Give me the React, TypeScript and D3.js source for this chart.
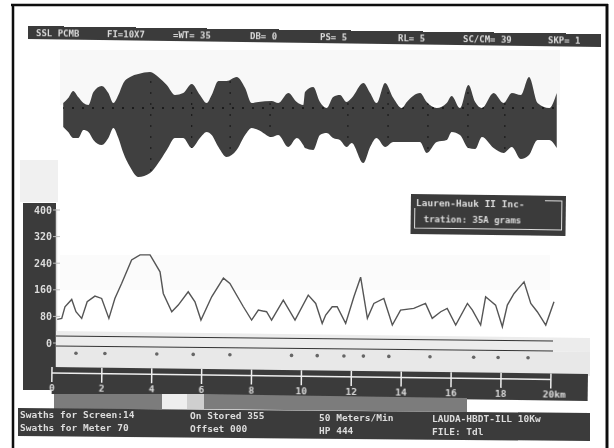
import React from "react";
import * as d3 from "d3";

const envelopeKm = [0.45,0.65,0.85,1.05,1.26,1.46,1.66,1.99,2.26,2.46,2.66,2.86,3.13,3.46,3.93,4.26,4.6,4.93,5.26,5.6,5.93,6.2,6.4,6.67,7.0,7.4,7.74,8.0,8.27,8.8,9.07,9.47,9.81,10.07,10.14,10.47,10.74,11.01,11.27,11.54,11.81,12.01,12.48,12.75,13.01,13.35,13.68,14.02,14.22,14.75,15.02,15.42,15.82,16.02,16.35,16.69,16.96,17.23,17.7,18.1,18.43,18.79,19.12,19.46,19.93,20.23];
const envelopeUpper = [14,19,26,20,14,12,25,31,24,14,22,34,40,43,45,40,32,22,24,33,22,14,22,36,36,40,29,14,15,16,14,24,15,12,25,30,15,9,20,22,15,19,34,24,14,34,19,9,15,24,15,9,14,21,9,32,15,9,24,14,24,22,40,14,9,24];
const envelopeLower = [-10,-15,-21,-21,-13,-15,-23,-28,-21,-11,-21,-36,-50,-60,-56,-46,-33,-21,-21,-31,-21,-15,-18,-30,-40,-33,-18,-11,-13,-20,-18,-30,-21,-28,-31,-33,-18,-16,-21,-23,-30,-26,-46,-30,-21,-30,-25,-25,-25,-25,-36,-25,-23,-15,-18,-31,-32,-20,-31,-36,-30,-42,-38,-23,-23,-31];
const envelopeGridKm = [3.96,5.6,7.14,8.74,11.86,13.47,15.07,16.67,18.15];

const traceKm = [0.21,0.39,0.52,0.79,0.96,1.19,1.41,1.72,1.99,2.28,2.52,2.79,3.19,3.53,3.93,4.33,4.46,4.8,5.06,5.46,5.73,5.97,6.4,6.87,7.13,7.67,8.0,8.27,8.6,8.8,9.27,9.74,10.27,10.57,10.83,10.97,11.23,11.43,11.77,12.1,12.37,12.5,12.64,12.9,13.3,13.64,13.97,14.5,14.97,15.24,15.58,15.84,16.18,16.65,16.85,17.18,17.38,17.78,18.05,18.25,18.52,18.92,19.19,19.45,19.79,20.12];
const traceValue = [71,74,109,131,94,74,124,141,134,74,134,179,250,265,265,214,149,94,114,154,124,69,139,195,179,109,69,99,94,69,129,69,144,119,59,84,109,109,59,139,198,139,74,119,134,54,99,104,119,74,94,104,54,119,99,54,139,114,49,114,149,184,119,94,54,124];

const markerKm = [0.96,2.12,4.2,5.66,7.13,9.6,10.63,11.7,12.48,13.5,15.15,16.9,17.88,19.08];
const yTicks = [0,80,160,240,320,400];
const kmTicks = [0,2,4,6,8,10,12,14,16,18,20];
const kmLabels = ["0","2","4","6","8","10","12","14","16","18","20km"];

const headerItems = ["SSL PCMB","FI=10X7","=WT= 35","DB= 0","PS= 5","RL= 5","SC/CM= 39","SKP= 1"];
const footerLeft = ["Swaths for Screen:14","Swaths for Meter 70"];
const footerMiddle = ["On Stored 355","Offset 000"];
const footerRate = ["50 Meters/Min","HP 444"];
const footerRight = ["LAUDA-HBDT-ILL 10Kw","FILE: Tdl"];
const legendLines = ["Lauren-Hauk II Inc-","tration: 35A grams"];

const DARK = "#3a3a3a";
const x = d3.scaleLinear().domain([0, 20]).range([52, 551]);
const yTrace = d3.scaleLinear().domain([0, 400]).range([343, 210]);
const yEnv = d3.scaleLinear().domain([-60, 45]).range([177, 72]);
const headerX = [36, 107, 173, 250, 320, 398, 463, 548];

const env = d3.area<number>()
  .x((_, i) => x(envelopeKm[i]))
  .y0((_, i) => yEnv(envelopeLower[i]))
  .y1((_, i) => yEnv(envelopeUpper[i]))
  .curve(d3.curveMonotoneX);
const trace = d3.line<number>().x((_, i) => x(traceKm[i])).y((d) => yTrace(d));
const envPath = env(envelopeUpper) ?? "";

const mono = { fontFamily: "'DejaVu Sans Mono', monospace", fontWeight: 700, fill: "#dcdcdc" } as const;

export default function App() {
  return (
    <svg width={614} height={448} style={{ position: "absolute", left: 0, top: 0, background: "#fff" }}>
      <defs>
        <filter id="soft" filterUnits="userSpaceOnUse" x="0" y="0" width="614" height="448"><feGaussianBlur stdDeviation="0.7" /></filter>
        <filter id="softer" filterUnits="userSpaceOnUse" x="0" y="0" width="614" height="448"><feGaussianBlur stdDeviation="0.4" /></filter>
        <clipPath id="envClip"><path d={envPath} /></clipPath>
      </defs>
      <g filter="url(#soft)">
        <rect x={60} y={50} width={500} height={55} fill="#f8f8f8" />
        <rect x={20} y={160} width={38} height={42} fill="#f0f0f0" />
        <rect x={60} y={255} width={490} height={35} fill="#fbfbfb" />

        <g transform="rotate(0.8 28 33)">
          <rect x={28} y={26} width={573} height={13} fill={DARK} />
          <g filter="url(#softer)">
            {headerItems.map((t, i) => (
              <text key={t} x={headerX[i]} y={36} fontSize={9} {...mono}>{t}</text>
            ))}
          </g>
        </g>

        <path d={envPath} fill="#404040" />
        <g clipPath="url(#envClip)">
          <line x1={x(0)} x2={x(20.4)} y1={108} y2={108} stroke="#111" strokeWidth={1.3} strokeDasharray="2 8" />
          {envelopeGridKm.map((k) => (
            <line key={k} x1={x(k)} x2={x(k)} y1={70} y2={180} stroke="#1a1a1a" strokeWidth={1.2} strokeDasharray="2 9" />
          ))}
        </g>

        <g transform="rotate(0.75 411 194)">
          <rect x={411} y={194} width={155} height={40} fill={DARK} />
          <path d="M 415 208 V 228 H 562 V 199 H 545" fill="none" stroke="#ddd" strokeWidth={1} />
          <g filter="url(#softer)">
            <text x={416} y={206} fontSize={9.5} {...mono}>{legendLines[0]}</text>
            <text x={424} y={222} fontSize={9} {...mono}>{legendLines[1]}</text>
          </g>
        </g>

        <rect x={23} y={203} width={33} height={187} fill={DARK} />
        <line x1={56.5} x2={56.5} y1={209} y2={370} stroke="#ddd" strokeWidth={1.5} />
        <g filter="url(#softer)">
          {yTicks.map((t) => (
            <text key={t} x={52} y={yTrace(t) + 3.5} textAnchor="end" fontSize={10} {...mono}>{t}</text>
          ))}
        </g>
        {yTicks.map((t) => (
          <line key={t} x1={53} x2={60} y1={yTrace(t)} y2={yTrace(t)} stroke="#bbb" />
        ))}
        <path d={trace(traceValue) ?? ""} fill="none" stroke="#555" strokeWidth={1.4} />

        <polygon points="56,331 590,338 590,352 56,346" fill="#ececec" />
        <polygon points="56,346 590,352 590,376 56,367" fill="#e8e8e8" />
        <line x1={56} y1={336} x2={553} y2={341} stroke="#333" strokeWidth={1} />
        <line x1={56} y1={346} x2={553} y2={351} stroke="#333" strokeWidth={1} />
        {markerKm.map((k) => (
          <circle key={k} cx={x(k)} cy={353 + k * 0.25} r={1.8} fill="#666" />
        ))}

        <g transform="rotate(0.75 52 367)">
          <rect x={52} y={367} width={536} height={27} fill={DARK} />
          <line x1={52} x2={551} y1={373} y2={373} stroke="#eee" strokeWidth={1.5} />
          {kmTicks.map((t) => (
            <line key={t} x1={x(t)} x2={x(t)} y1={367} y2={382} stroke="#eee" strokeWidth={1.5} />
          ))}
          <g filter="url(#softer)">
            {kmTicks.map((t, i) => (
              <text key={t} x={x(t)} y={391} textAnchor={i === 10 ? "start" : "middle"} dx={i === 10 ? -8 : 0} fontSize={9.5} {...mono}>{kmLabels[i]}</text>
            ))}
          </g>
        </g>

        <rect x={54} y={394} width={108} height={15} fill="#7b7b7b" />
        <rect x={162} y={394} width={25} height={15} fill="#eeeeee" />
        <rect x={187} y={394} width={17} height={15} fill="#cfcfcf" />
        <polygon points="204,394 467,398 467,412 204,409" fill="#7b7b7b" />

        <polygon points="18,408 590,413 590,441 18,436" fill={DARK} />
        <g filter="url(#softer)">
          {footerLeft.map((t, i) => <text key={t} x={20} y={418 + i * 13} fontSize={9.5} {...mono}>{t}</text>)}
          {footerMiddle.map((t, i) => <text key={t} x={190} y={419 + i * 13} fontSize={9.5} {...mono}>{t}</text>)}
          {footerRate.map((t, i) => <text key={t} x={319} y={421 + i * 13} fontSize={9.5} {...mono}>{t}</text>)}
          {footerRight.map((t, i) => <text key={t} x={432} y={422 + i * 13} fontSize={9.5} {...mono}>{t}</text>)}
        </g>

        <line x1={13} x2={13} y1={4} y2={448} stroke="#111" strokeWidth={2.5} />
        <line x1={11} x2={608} y1={5} y2={5} stroke="#111" strokeWidth={2.5} />
        <line x1={607} x2={607} y1={4} y2={448} stroke="#111" strokeWidth={3} />
      </g>
    </svg>
  );
}
